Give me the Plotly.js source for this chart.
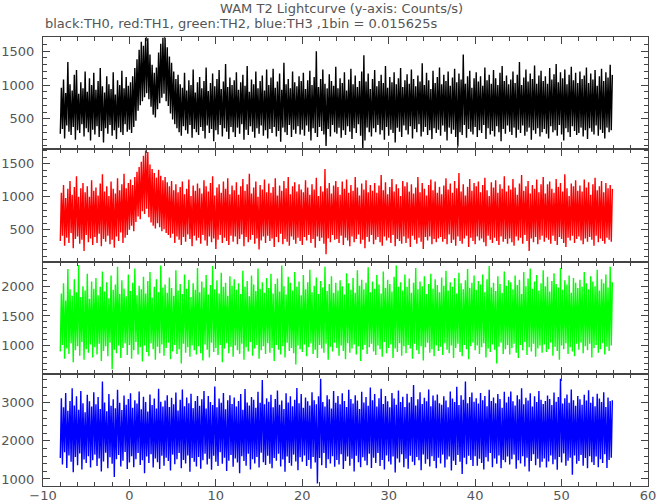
<!DOCTYPE html>
<html>
<head>
<meta charset="utf-8">
<script src="https://cdn.plot.ly/plotly-3.0.1.min.js"></script>
<style>html,body{margin:0;padding:0;background:#fff;}#chart{width:657px;height:504px;}</style>
</head>
<body>
<div id="chart"></div>
<script>
// Time grid (seconds): each 0.25 s slice of the light curve is given by the
// lowest and highest count rate seen inside it (read from the reference band).
var tStart = -8;
var binWidth = 0.25;

// TH0 (black) counts/s: slice minima / maxima
var th0Low = [
280,350,210,400,310,260,380,190,330,290,420,240,360,300,180,340,
270,390,230,320,150,360,280,410,250,330,200,370,300,260,420,310,
340,290,380,470,620,700,760,820,880,790,680,560,520,640,730,810,
870,760,690,580,490,420,360,300,250,390,330,280,410,220,350,300,
260,380,320,210,400,290,350,170,330,270,410,240,360,310,200,380,
300,230,370,280,420,190,340,260,390,310,220,360,280,400,250,330,
210,350,290,380,240,320,160,370,300,260,410,230,340,280,390,270,
340,250,400,310,180,360,290,230,380,320,270,100,350,240,410,300,
280,370,220,330,260,390,310,200,360,290,420,250,60,180,370,300,
240,360,300,410,270,330,190,380,250,340,290,150,370,310,230,400,
330,270,390,210,350,300,420,240,310,380,260,330,200,360,290,340,
250,400,310,180,370,280,340,230,90,300,260,410,220,350,310,270,
380,230,330,290,410,200,360,270,320,240,390,300,170,350,280,400,
310,260,370,220,340,290,400,250,310,370,190,330,280,360,240,300,
350,280,210,390,300,330,250,410,270,180,360,300,230,390,320,260,
290,370,240,330,200,360,310,270,400,250,340,290,210,370,300,330
];
var th0High = [
960,1080,880,1340,1010,920,1150,1220,870,1040,950,1200,900,1100,1000,1180,
930,1060,1250,980,890,1130,1010,940,1190,860,1070,1000,1210,950,1120,990,
1040,1130,1250,1380,1520,1640,1580,1700,1690,1450,1300,1180,1260,1480,1610,1700,
1700,1560,1420,1330,1200,1090,1150,1010,960,1180,920,1070,1000,1230,890,1040,
1120,950,1060,1260,910,1030,1170,980,1090,1220,940,1050,1310,970,1110,1000,
1070,1190,930,1040,1150,990,1280,900,1080,1010,1200,950,1060,1140,920,1230,
1000,1110,1240,960,1050,1170,930,1330,1010,1090,950,1200,1040,980,1130,1060,
1180,940,1070,1210,1000,1120,1500,970,1090,1230,1020,950,1160,1060,990,1270,
950,1100,1030,1190,920,1080,1240,1010,1140,970,1060,1200,1440,1050,1170,940,
1090,1220,980,1060,1150,1030,1280,960,1120,1040,1190,1010,1100,1250,970,1070,
1160,1020,1230,1090,980,1140,1050,1320,1000,1180,1070,940,1210,1030,1120,1260,
1010,1150,1060,1200,990,1110,1240,1040,1170,1080,1450,1020,1130,1210,960,1100,
1190,1050,1130,990,1260,1070,1150,1020,1220,1100,1000,1180,1280,1060,1140,1010,
1080,1200,1030,1150,1340,1000,1110,1230,1050,1170,1090,1290,1020,1140,1210,1060,
1130,1020,1250,1080,1160,1310,1040,1190,1100,1230,1010,1150,1270,1070,1180,1030,
1200,1090,1140,1260,1030,1170,1080,1220,990,1130,1240,1060,1190,1110,1300,1150
];

// TH1 (red) counts/s: slice minima / maxima
var th1Low = [
330,410,260,380,300,450,220,360,400,290,350,180,420,310,370,270,
390,300,440,250,360,320,410,280,350,230,400,330,460,300,380,420,
500,560,480,620,700,660,780,740,820,690,610,560,520,600,540,480,
510,450,420,380,440,300,400,350,270,390,320,430,360,250,410,340,
380,290,420,340,260,400,310,370,210,350,420,300,380,330,270,410,
320,400,280,360,430,250,390,310,350,420,290,370,200,340,400,300,
410,330,370,240,390,310,440,280,360,320,260,400,350,290,380,330,
270,390,340,420,300,360,230,400,330,380,290,130,370,310,420,350,
360,300,410,270,380,340,250,400,310,360,430,290,350,220,390,320,
420,280,350,390,310,260,400,340,380,300,420,250,360,330,290,400,
300,370,240,410,350,290,380,320,210,390,340,400,280,360,310,370,
390,320,360,280,430,300,350,260,400,330,290,370,410,240,380,330,
280,400,340,370,310,250,410,350,300,380,330,270,400,320,360,290,
370,310,260,400,340,380,290,420,330,180,370,310,390,280,350,410,
320,380,350,290,410,330,270,390,360,300,240,380,340,410,300,360,
400,340,280,370,320,390,350,260,410,310,370,330,290,380,350,320
];
var th1High = [
1060,1180,980,1120,1240,1030,1150,1310,1000,1130,1210,1070,1160,1000,1250,1090,
1140,1020,1200,1340,1080,1160,1010,1230,1120,1050,1280,1100,1190,1350,1130,1210,
1260,1180,1300,1380,1450,1530,1620,1700,1680,1490,1420,1360,1290,1410,1320,1250,
1300,1220,1160,1240,1100,1190,1070,1150,1230,1040,1120,1260,1010,1170,1090,1200,
1130,1050,1250,1160,1080,1210,1310,1020,1140,1190,1060,1230,1120,1280,1040,1170,
1100,1220,1030,1160,1270,1090,1190,1350,1050,1140,1230,1000,1180,1110,1260,1070,
1200,1060,1150,1280,1020,1170,1090,1240,1130,1300,1040,1160,1220,1080,1190,1110,
1070,1250,1140,1030,1190,1110,1290,1010,1160,1080,1420,1130,1210,1050,1170,1240,
1150,1030,1230,1120,1260,1060,1180,1090,1300,1140,1020,1200,1110,1250,1070,1180,
1090,1210,1060,1170,1330,1100,1220,1040,1150,1270,1080,1190,1130,1010,1240,1160,
1220,1080,1190,1050,1140,1300,1070,1210,1120,1020,1180,1260,1100,1230,1060,1150,
1040,1170,1280,1110,1200,1060,1240,1130,1360,1080,1190,1020,1150,1270,1090,1210,
1160,1230,1070,1180,1290,1100,1010,1220,1140,1250,1060,1190,1120,1310,1080,1170,
1110,1270,1140,1030,1200,1330,1090,1160,1240,1050,1180,1120,1260,1070,1190,1300,
1050,1190,1230,1120,1060,1270,1150,1210,1080,1340,1130,1010,1200,1160,1250,1090,
1170,1080,1260,1140,1220,1030,1190,1290,1100,1160,1240,1070,1210,1130,1180,1120
];

// TH2 (green) counts/s: slice minima / maxima
var th2Low = [
900,1010,780,950,860,1040,720,920,990,830,1060,760,940,880,1020,800,
970,850,1030,740,910,990,820,1050,600,930,870,1000,790,960,1040,840,
1010,780,920,1060,850,970,730,1000,890,820,1040,940,760,980,870,1020,
830,960,1050,770,900,1010,860,940,700,1030,880,970,810,1000,920,850,
990,870,750,1020,930,800,1050,890,960,840,1010,720,950,1040,870,980,
810,1000,920,860,1030,760,970,900,1060,830,950,1010,780,920,990,860,
1040,880,960,740,1010,930,850,990,800,1050,910,960,870,680,1000,940,
890,1020,820,970,1040,860,930,790,1010,950,880,1030,760,980,900,1050,
960,830,1000,910,770,1040,880,950,1020,850,990,740,930,1010,860,970,
1030,900,840,1000,940,810,1060,870,960,1020,790,950,890,1040,830,990,
870,1010,950,780,1030,920,860,990,750,970,1050,880,940,820,1000,910,
980,840,1040,930,870,1000,790,960,1030,890,820,1010,940,770,990,1050,
920,1000,860,970,1040,800,950,890,1020,930,700,980,1050,860,940,1010,
850,960,1030,880,790,1010,920,1060,840,970,900,1030,810,950,1000,880,
1020,890,940,1050,830,980,910,760,1000,940,1040,860,970,900,820,1030,
930,1050,870,990,920,1030,800,960,1010,880,940,1040,850,980,910,1000
];
var th2High = [
1880,2050,1760,2290,1950,1840,2120,1900,2360,1820,2000,1930,2210,1790,2080,1960,
2140,1850,1990,2250,1910,2070,1800,2180,1940,2030,2330,1870,2100,1960,1830,2200,
1920,2060,2300,1850,2010,1950,2160,1880,2090,2240,1810,1990,2120,1900,2350,1980,
2030,1890,2150,1970,1840,2270,1930,2040,1870,2200,1960,2110,1820,2050,1940,2310,
1900,2080,1980,2190,1860,2020,2340,1950,2100,1880,2230,1990,2060,1840,2170,2010,
2120,1940,2050,1870,2260,1990,2090,1830,2180,2030,1920,2300,1960,2070,1890,2140,
1970,2210,1880,2040,2130,1910,2350,2000,1860,2160,2060,1930,2240,1990,2080,1850,
2190,1950,2070,2280,1900,2010,2150,1870,2090,1980,2330,1920,2040,2170,1890,2060,
1930,2100,2000,1860,2220,2050,1940,2140,1890,2270,2010,2110,1950,2060,2320,1900,
2080,1960,2190,2030,1880,2250,1970,2110,2040,1910,2160,2350,1990,2070,1930,2200,
1990,2130,1890,2060,2310,1950,2080,2000,2170,1870,2040,2210,1960,2120,2020,1900,
2150,2010,2260,1930,2070,1990,2140,1880,2230,2050,1950,2100,2290,1970,2060,2180,
1940,2090,2030,2200,1900,2120,2340,1980,2060,1920,2170,2040,1890,2250,2010,2100,
2070,1950,2180,2020,2110,1870,2240,2000,2130,2300,1960,2080,2190,1930,2050,2270,
2000,2160,1910,2090,2220,2040,1980,2310,1940,2100,2030,2180,1890,2140,2060,1970,
2110,1990,2240,2050,1950,2170,2080,2000,2280,1930,2120,2050,2200,1980,2330,2070
];

// TH3 (blue) counts/s: slice minima / maxima
var th3Low = [
1550,1380,1700,1290,1620,1450,1180,1580,1360,1670,1250,1510,1420,1600,1300,1490,
1640,1340,1540,1200,1460,1690,1280,1570,1400,1050,1520,1630,1330,1480,1710,1260,
1430,1600,1310,1520,1680,1370,1490,1150,1590,1420,1650,1300,1540,1440,1260,1610,
1350,1560,1470,1220,1640,1390,1520,1680,1280,1500,1410,1620,1190,1550,1450,1330,
1580,1270,1490,1660,1380,1530,1240,1610,1450,1340,1700,1400,1560,1210,1480,1630,
1320,1540,1430,1150,1600,1470,1350,1660,1250,1520,1410,1580,1300,1690,1440,1370,
1610,1400,1280,1550,1480,1660,1330,1510,1190,1590,1420,1350,1640,1460,1230,1570,
1450,1620,1340,1500,1270,1580,1430,880,1550,1360,1680,1290,1520,1410,1600,1320,
1500,1380,1650,1260,1470,1590,1350,1530,1200,1610,1440,1310,1570,1480,1360,1660,
1290,1560,1420,1680,1340,1500,1250,1620,1460,1380,1590,1170,1540,1430,1650,1310,
1530,1270,1610,1450,1360,1580,1490,1230,1640,1400,1520,1330,1600,1470,1280,1560,
1410,1640,1300,1510,1590,1220,1480,1370,1630,1450,1130,1560,1390,1610,1500,1340,
1600,1350,1530,1420,1250,1570,1460,1680,1310,1540,1400,1620,1280,1500,1440,1590,
1380,1520,1640,1270,1490,1410,1600,1330,1560,1200,1470,1650,1360,1530,1300,1450,
1540,1300,1460,1620,1390,1510,1240,1580,1430,1670,1350,1480,1560,1110,1620,1400,
1470,1630,1350,1550,1280,1600,1440,1370,1590,1310,1520,1420,1650,1290,1500,1560
];
var th3High = [
3120,2880,3260,2790,3050,3380,2930,3170,2820,3310,2990,2750,3210,3040,2900,3280,
2960,3150,2840,3560,3010,2780,3230,2920,3090,2860,3340,3000,2810,3190,2950,3100,
3250,2870,3070,2980,3300,2830,3160,3020,2770,3220,2940,3110,2850,3370,3030,2900,
3060,3200,2890,3130,2960,3270,2800,3080,3350,2910,3140,2990,3240,2860,3050,3180,
2920,3090,3310,2850,3180,3020,2940,3430,2880,3110,3000,3260,2830,3070,3200,2970,
3140,2900,3050,3230,2820,3360,3010,2930,3150,3080,2870,3290,3000,3600,2960,3120,
3030,3210,2880,3100,3320,2950,3060,2840,3250,3010,3170,2910,3080,3390,2990,3230,
2870,3140,3040,2930,3280,3070,2960,3170,3630,3020,2900,3200,3090,2850,3310,3000,
3180,2960,3250,3050,2890,3340,3100,2980,3200,3060,2840,3290,3010,3150,2920,3400,
3070,3230,2900,3120,3370,2970,3180,3040,2880,3260,3110,2950,3320,3020,3160,2890,
3240,3010,3150,3470,2930,3090,3280,2970,3130,3040,3350,2910,3190,3060,3220,2990,
2950,3170,3060,2880,3300,3110,3020,3420,2940,3200,3080,3560,2990,3150,3270,3030,
3120,2980,3260,3070,3180,2910,3340,3050,3140,2990,3230,3100,2870,3290,3010,3160,
3300,3040,2930,3200,3090,3380,2960,3130,3060,3250,2900,3170,3020,3310,3080,2970,
3050,3190,3100,2940,3270,3030,3150,3630,2980,3120,3220,3000,3350,3070,2920,3180,
3090,2950,3210,3060,3330,3000,3160,2910,3240,3110,3020,3280,2890,3140,3050,3070
];

var seriesNames = ['TH0', 'TH1', 'TH2', 'TH3'];
var seriesColors = ['#000000', '#ff0000', '#00ff00', '#0000ff'];
var xTickVals = [-10, 0, 10, 20, 30, 40, 50, 60];

// Walk each slice from its minimum to its maximum so the band is traced out.
function bandPath(lows, highs) {
  var x = [], y = [];
  for (var i = 0; i < lows.length; i++) {
    x.push(tStart + i * binWidth);
    y.push(lows[i]);
    x.push(tStart + (i + 0.5) * binWidth);
    y.push(highs[i]);
  }
  return { x: x, y: y };
}

var bands = [[th0Low, th0High], [th1Low, th1High], [th2Low, th2High], [th3Low, th3High]];
var traces = bands.map(function (b, k) {
  var p = bandPath(b[0], b[1]);
  return {
    x: p.x,
    y: p.y,
    type: 'scatter',
    mode: 'lines',
    name: seriesNames[k],
    line: { color: seriesColors[k], width: 1.4 },
    xaxis: k === 0 ? 'x' : 'x' + (k + 1),
    yaxis: k === 0 ? 'y' : 'y' + (k + 1),
    hoverinfo: 'skip'
  };
});

var axisColor = '#444';
var fontFam = 'DejaVu Sans, Liberation Sans, sans-serif';
var tickFont = { family: fontFam, size: 13, color: '#555' };
var titleFont = { family: fontFam, size: 13, color: '#555' };

function xAxis(anchor, showLabels) {
  return {
    anchor: anchor,
    range: [-10, 60],
    tickmode: 'array',
    tickvals: xTickVals,
    ticks: 'inside',
    ticklen: 7,
    tickcolor: axisColor,
    showticklabels: showLabels,
    tickfont: tickFont,
    ticklabelstandoff: -3,
    minor: { dtick: 2, tick0: 0, ticks: 'inside', ticklen: 4, tickcolor: axisColor },
    showline: true,
    linecolor: axisColor,
    linewidth: 1,
    mirror: 'allticks',
    showgrid: false,
    zeroline: false,
    matches: anchor === 'y' ? undefined : 'x'
  };
}

function yAxis(domain, range, dtick, minorDtick) {
  return {
    domain: domain,
    range: range,
    dtick: dtick,
    tick0: 0,
    ticks: 'inside',
    ticklen: 7,
    tickcolor: axisColor,
    tickfont: tickFont,
    minor: { dtick: minorDtick, tick0: 0, ticks: 'inside', ticklen: 4, tickcolor: axisColor },
    showline: true,
    linecolor: axisColor,
    linewidth: 1,
    mirror: 'allticks',
    showgrid: false,
    zeroline: false,
    ticklabelstandoff: 5
  };
}

var layout = {
  width: 657,
  height: 504,
  paper_bgcolor: '#ffffff',
  plot_bgcolor: '#ffffff',
  showlegend: false,
  margin: { l: 43, r: 9, t: 37, b: 18, pad: 0 },
  title: {
    text: 'WAM T2 Lightcurve (y-axis: Counts/s)',
    x: 0.52, xanchor: 'center',
    y: 1 - 8 / 504, yanchor: 'middle', yref: 'container',
    font: titleFont
  },
  annotations: [{
    text: 'black:TH0, red:TH1, green:TH2, blue:TH3 ,1bin = 0.015625s',
    xref: 'paper', yref: 'paper',
    x: 0, y: 1 + 14 / 449,
    xanchor: 'left', yanchor: 'middle',
    showarrow: false,
    font: titleFont
  }],
  xaxis: xAxis('y', false),
  xaxis2: xAxis('y2', false),
  xaxis3: xAxis('y3', false),
  xaxis4: xAxis('y4', true),
  yaxis: yAxis([0.75, 1], [50, 1710], 500, 100),
  yaxis2: yAxis([0.5, 0.75], [20, 1720], 500, 100),
  yaxis3: yAxis([0.25, 0.5], [525, 2418], 500, 100),
  yaxis4: yAxis([0, 0.25], [816, 3763], 1000, 200)
};

Plotly.newPlot('chart', traces, layout, { staticPlot: true, displayModeBar: false });
</script>
</body>
</html>
